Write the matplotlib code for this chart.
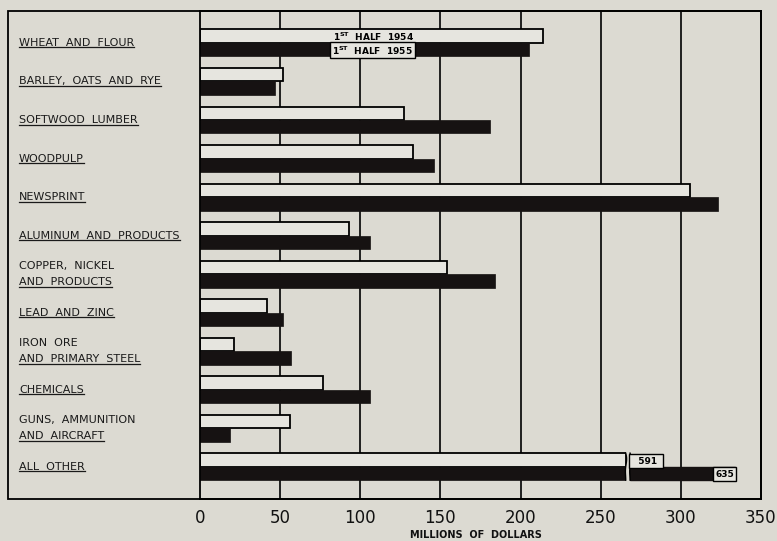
import matplotlib
matplotlib.use("Agg")
import numpy as np
import matplotlib.pyplot as plt
import matplotlib.transforms as mtransforms
from matplotlib.patches import Rectangle
from matplotlib.lines import Line2D

# exports, millions of dollars
categories = [
    "WHEAT  AND  FLOUR",
    "BARLEY,  OATS  AND  RYE",
    "SOFTWOOD  LUMBER",
    "WOODPULP",
    "NEWSPRINT",
    "ALUMINUM  AND  PRODUCTS",
    "COPPER,  NICKEL\nAND  PRODUCTS",
    "LEAD  AND  ZINC",
    "IRON  ORE\nAND  PRIMARY  STEEL",
    "CHEMICALS",
    "GUNS,  AMMUNITION\nAND  AIRCRAFT",
    "ALL  OTHER",
]
half_1954 = [214, 52, 127, 133, 306, 93, 154, 42, 21, 77, 56, 591]
half_1955 = [205, 47, 181, 146, 323, 106, 184, 52, 57, 106, 19, 635]
ticks = [0, 50, 100, 150, 200, 250, 300, 350]

BG = "#dcdad2"
LIGHT = "#e6e5df"
DARK = "#161212"
XMAX = 350
BREAK = 265.6     # where the off-scale bars are cut
RESUME = 268.3

W, H = 777, 541
fig = plt.figure(figsize=(W / 100, H / 100), dpi=100, facecolor=BG)
top_px, bot_px, left_px, right_px = 11, 499, 200, 761
ax = fig.add_axes([left_px / W, 1 - bot_px / H, (right_px - left_px) / W,
                   (bot_px - top_px) / H])
ax.set_facecolor(BG)

y = np.arange(len(categories))
h = 0.35
v54 = np.array(half_1954)
v55 = np.array(half_1955)
w54 = np.where(v54 > XMAX, BREAK, v54)
w55 = np.where(v55 > XMAX, BREAK, v55)

for t in ticks[1:-1]:
    ax.axvline(t, color="black", lw=1.2, zorder=1)

ax.barh(y - h / 2, w54, height=h, color=LIGHT, edgecolor="black",
        linewidth=1.3, zorder=2)
ax.barh(y + h / 2, w55, height=h, color=DARK, edgecolor=DARK,
        linewidth=0.5, zorder=2)

ax.set_xlim(0, XMAX)
ax.set_ylim(11.84, -0.83)
ax.set_xticks(ticks)
ax.set_xticklabels([str(t) for t in ticks], fontsize=12, color="#111")
ax.tick_params(axis="x", length=0, pad=7)
ax.set_yticks([])
for s in ax.spines.values():
    s.set_linewidth(1.3)

# broken "all other" bars
tt = np.linspace(0, 1, 40)
for i in np.where((v54 > XMAX) | (v55 > XMAX))[0]:
    ax.add_patch(Rectangle((BREAK, i - h - 0.05), RESUME - BREAK, 2 * h + 0.1,
                           facecolor=BG, edgecolor="none", zorder=3))
    for xb in (BREAK, RESUME):
        ax.plot(xb + 0.9 * np.sin(tt * 2 * np.pi) * (1 - tt) * 0.8,
                i - h + tt * 2 * h, color="black", lw=1.0, zorder=4)
    ax.barh(i + h / 2, 334 - RESUME, left=RESUME, height=h, color=DARK,
            edgecolor=DARK, zorder=2)
    ax.text(RESUME + 1.2, i - h / 2 + 0.03, "  " + str(half_1954[i]) + " ",
            fontsize=6.5, fontweight="bold", va="center", ha="left", zorder=5,
            bbox=dict(boxstyle="square,pad=0.3", fc=LIGHT, ec="black", lw=1.0))
    ax.text(333, i + h / 2 + 0.02, str(half_1955[i]), fontsize=6.5,
            fontweight="bold", va="center", ha="right", zorder=5,
            bbox=dict(boxstyle="square,pad=0.25", fc=LIGHT, ec="black", lw=1.0))

# legend inside wheat bars
ax.text(83, -h / 2 + 0.01, r"1$^{\mathregular{ST}}$  HALF  1954", fontsize=6.5,
        fontweight="bold", va="center", ha="left", zorder=5)
ax.text(82.5, h / 2 + 0.02, r"1$^{\mathregular{ST}}$  HALF  1955", fontsize=6.5,
        fontweight="bold", va="center", ha="left", zorder=5,
        bbox=dict(boxstyle="square,pad=0.2", fc=LIGHT, ec="black", lw=1.0))

fig.text(476 / W, 1 - 535 / H, "MILLIONS  OF  DOLLARS",
         fontsize=7, fontweight="bold", ha="center", va="center", color="#111")

# outer frame including the label column
fig.add_artist(Rectangle((8 / W, 1 - bot_px / H), (right_px - 8) / W,
                         (bot_px - top_px) / H, transform=fig.transFigure,
                         fill=False, lw=1.3, edgecolor="black"))

# category labels, last line underlined
trans = mtransforms.blended_transform_factory(fig.transFigure, ax.transData)
under = []
for k, lab in enumerate(categories):
    lines = lab.split("\n")
    n = len(lines)
    for j, ln in enumerate(lines):
        yy = k + (j - (n - 1) / 2) * 0.42
        txt = ax.text(19 / W, yy, ln, transform=trans, fontsize=8,
                      color="#1a1a1a", va="center", ha="left", clip_on=False)
        if j == n - 1:
            under.append(txt)

fig.canvas.draw()
inv = fig.transFigure.inverted()
for txt in under:
    bb = txt.get_window_extent()
    (x0, y0), (x1, _) = inv.transform([[bb.x0, bb.y0 + 0.5], [bb.x1, bb.y0]])
    fig.add_artist(Line2D([x0, x1], [y0, y0], transform=fig.transFigure,
                          color="#1a1a1a", lw=0.9))

fig.savefig("out.png", dpi=100, facecolor=BG)
